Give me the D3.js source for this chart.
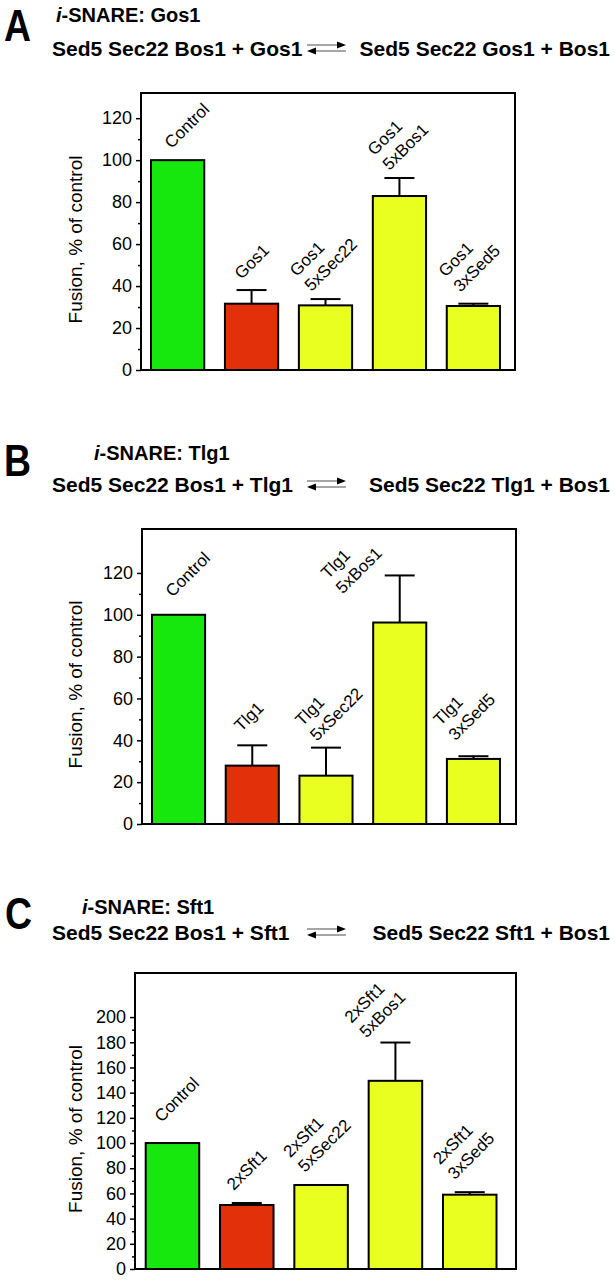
<!DOCTYPE html>
<html>
<head>
<meta charset="utf-8">
<title>i-SNARE fusion</title>
<script src="https://cdn.jsdelivr.net/npm/d3@7"></script>
<style>
  body { margin: 0; background: #fff; }
  svg { display: block; font-family: "Liberation Sans", Arial, Helvetica, sans-serif; }
</style>
</head>
<body>
<div id="chart"></div>
<script>
// bar colours, one per category position
var barColors = ["#16e80e", "#e2300b", "#e9ff1f", "#e9ff1f", "#e9ff1f"];

// panel A - Gos1
var gosLabels = [["Control"], ["Gos1"], ["Gos1", "5xSec22"], ["Gos1", "5xBos1"], ["Gos1", "3xSed5"]];
var gosValues = [100, 31.6, 30.8, 82.9, 30.5];
var gosErrors = [0, 6.5, 3.0, 8.6, 1.1];
var gosTicks = [0, 20, 40, 60, 80, 100, 120];
var gosMax = 132;

// panel B - Tlg1
var tlgLabels = [["Control"], ["Tlg1"], ["Tlg1", "5xSec22"], ["Tlg1", "5xBos1"], ["Tlg1", "3xSed5"]];
var tlgValues = [100, 27.9, 23.1, 96.3, 31.1];
var tlgErrors = [0, 9.7, 13.4, 22.5, 1.3];
var tlgTicks = [0, 20, 40, 60, 80, 100, 120];
var tlgMax = 141;

// panel C - Sft1
var sftLabels = [["Control"], ["2xSft1"], ["2xSft1", "5xSec22"], ["2xSft1", "5xBos1"], ["2xSft1", "3xSed5"]];
var sftValues = [100, 50.8, 66.7, 149.4, 59];
var sftErrors = [0, 1.6, 0, 30.4, 2];
var sftTicks = [0, 20, 40, 60, 80, 100, 120, 140, 160, 180, 200];
var sftMax = 235;

// page layout for each panel
var panels = [
  { letter: "A", snare: "Gos1", labels: gosLabels, values: gosValues, errors: gosErrors, ticks: gosTicks, yMax: gosMax,
    left: 141, right: 515, top: 93, bottom: 370, barLeft: 151, barRight: 500,
    letterX: 4, letterY: 41, subX: 56, subY: 22, eqY: 56,
    nudge: [[-6, -11], [-10, -10], [-14, -7], [-10, -7], [-13, -11]] },
  { letter: "B", snare: "Tlg1", labels: tlgLabels, values: tlgValues, errors: tlgErrors, ticks: tlgTicks, yMax: tlgMax,
    left: 142, right: 516, top: 529, bottom: 824, barLeft: 152, barRight: 500,
    letterX: 4, letterY: 476, subX: 94, subY: 460, eqY: 492,
    nudge: [[-6, -17], [-11, -13], [-9, -6], [-57, 19], [-18, -15]] },
  { letter: "C", snare: "Sft1", labels: sftLabels, values: sftValues, errors: sftErrors, ticks: sftTicks, yMax: sftMax,
    left: 135, right: 516, top: 973, bottom: 1269, barLeft: 145.7, barRight: 496.5,
    letterX: 5, letterY: 929, subX: 82, subY: 914, eqY: 940,
    nudge: [[-11, -20], [-13, -12], [-16, -12], [-29, -4], [-15, -12]] }
];

var svg = d3.select("#chart").append("svg")
  .attr("width", 615)
  .attr("height", 1280);

panels.forEach(function (p) {
  var g = svg.append("g");

  // panel letter and headings
  g.append("text")
    .attr("transform", "translate(" + p.letterX + "," + p.letterY + ") scale(0.85,1)")
    .style("font-size", "44px").style("font-weight", "bold")
    .text(p.letter);

  var sub = g.append("text").attr("x", p.subX).attr("y", p.subY)
    .style("font-size", "20px").style("font-weight", "bold");
  sub.append("tspan").style("font-style", "italic").text("i");
  sub.append("tspan").text("-SNARE: " + p.snare);

  var eq1 = g.append("text").attr("x", 52).attr("y", p.eqY)
    .style("font-size", "21px").style("font-weight", "bold")
    .text("Sed5 Sec22 Bos1 + " + p.snare);
  var eq2 = g.append("text").attr("x", 610).attr("y", p.eqY).attr("text-anchor", "end")
    .style("font-size", "21px").style("font-weight", "bold")
    .text("Sed5 Sec22 " + p.snare + " + Bos1");
  var e1 = 52 + eq1.node().getComputedTextLength();
  var s2 = 610 - eq2.node().getComputedTextLength();
  var mid = (e1 + s2) / 2;
  var ax0 = mid - 24, ax1 = mid + 15;
  var ua = p.eqY - 11, la = p.eqY - 5;
  // equilibrium arrows
  g.append("line").attr("x1", ax0).attr("x2", ax1 - 6).attr("y1", ua).attr("y2", ua)
    .attr("stroke", "#888").attr("stroke-width", 1.3);
  g.append("path").attr("d", "M" + (ax1 - 9) + "," + (ua - 3.5) + "L" + ax1 + "," + ua + "L" + (ax1 - 9) + "," + (ua + 3.5) + "Z");
  g.append("line").attr("x1", ax0 + 6).attr("x2", ax1).attr("y1", la).attr("y2", la)
    .attr("stroke", "#888").attr("stroke-width", 1.3);
  g.append("path").attr("d", "M" + (ax0 + 9) + "," + (la - 3.5) + "L" + ax0 + "," + la + "L" + (ax0 + 9) + "," + (la + 3.5) + "Z");

  // scales
  var x = d3.scaleBand().domain(d3.range(p.values.length))
    .range([p.barLeft, p.barRight]).paddingInner(0.28).paddingOuter(0);
  var y = d3.scaleLinear().domain([0, p.yMax]).range([p.bottom, p.top]);

  // bars
  g.selectAll("rect.bar").data(p.values).enter().append("rect")
    .attr("class", "bar")
    .attr("x", function (d, i) { return x(i); })
    .attr("y", function (d) { return y(d); })
    .attr("width", x.bandwidth())
    .attr("height", function (d) { return y(0) - y(d); })
    .attr("fill", function (d, i) { return barColors[i]; })
    .attr("stroke", "#000").attr("stroke-width", 2);

  // error bars (upper only)
  p.values.forEach(function (v, i) {
    var e = p.errors[i];
    if (!e) return;
    var cx = x(i) + x.bandwidth() / 2;
    g.append("line").attr("x1", cx).attr("x2", cx).attr("y1", y(v)).attr("y2", y(v + e))
      .attr("stroke", "#000").attr("stroke-width", 2);
    g.append("line").attr("x1", cx - 15).attr("x2", cx + 15).attr("y1", y(v + e)).attr("y2", y(v + e))
      .attr("stroke", "#000").attr("stroke-width", 2);
  });

  // rotated category labels
  p.labels.forEach(function (lines, i) {
    var cx = x(i) + x.bandwidth() / 2;
    var top = y(p.values[i] + p.errors[i]);
    var lg = g.append("g")
      .attr("transform", "translate(" + (cx + p.nudge[i][0]) + "," + (top + p.nudge[i][1]) + ") rotate(-45)");
    lines.forEach(function (t, j) {
      lg.append("text").attr("x", 0).attr("y", (j - (lines.length - 1)) * 21)
        .style("font-size", "17px").text(t);
    });
  });

  // y axis: minor then major ticks
  var minor = d3.range(10, d3.max(p.ticks), 20);
  g.append("g").attr("transform", "translate(" + p.left + ",0)")
    .call(d3.axisLeft(y).tickValues(minor).tickSize(3).tickFormat(""))
    .call(function (a) {
      a.select(".domain").remove();
      a.selectAll("line").attr("stroke-width", 1.5);
    });
  g.append("g").attr("transform", "translate(" + p.left + ",0)")
    .call(d3.axisLeft(y).tickValues(p.ticks).tickSize(5).tickPadding(4))
    .call(function (a) {
      a.select(".domain").remove();
      a.attr("font-family", null).attr("font-size", null);
      a.selectAll("line").attr("stroke-width", 1.5);
      a.selectAll("text").style("font-size", "18px").attr("fill", "#000");
    });

  // frame
  g.append("rect")
    .attr("x", p.left).attr("y", p.top)
    .attr("width", p.right - p.left).attr("height", p.bottom - p.top)
    .attr("fill", "none").attr("stroke", "#000").attr("stroke-width", 2);

  // y axis title
  g.append("text")
    .attr("transform", "translate(82," + ((p.top + p.bottom) / 2 + 8) + ") rotate(-90)")
    .attr("text-anchor", "middle")
    .style("font-size", "19px")
    .text("Fusion, % of control");
});
</script>
</body>
</html>
